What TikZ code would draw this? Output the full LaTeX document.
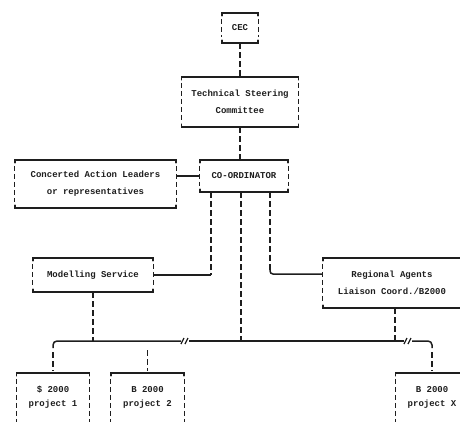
\documentclass[tikz,border=0pt]{standalone}
\usepackage{fontspec}
\setmonofont{Liberation Mono}
\usetikzlibrary{calc}
\definecolor{ink}{HTML}{1E1E1E}
\begin{document}
\begin{tikzpicture}[x=1pt,y=-1pt,
  lbl/.style={font=\fontsize{9}{17}\selectfont\ttfamily\bfseries, text=ink,
              align=center, inner sep=0pt},
  frame/.style={lbl, draw=none},
  pframe/.style={frame, font=\fontsize{9}{14}\selectfont\ttfamily\bfseries,
                 minimum width=73pt, minimum height=48pt},
  edge/.style={draw=ink, line width=1.5pt, line cap=round},
  side/.style={draw=ink, line width=1.1pt, dash pattern=on 5pt off 3pt},
  vlink/.style={draw=ink, line width=1.2pt, dash pattern=on 6pt off 3pt},
  hlink/.style={draw=ink, line width=1.5pt},
  brk/.style={draw=ink, line width=1.2pt},
]
\useasboundingbox (0,0) rectangle (460,421);
\clip (0,0) rectangle (460,421);

% boxes
\node[frame, minimum width=36pt,  minimum height=30pt] (cec)   at (240,28)    {CEC};
\node[frame, minimum width=117pt, minimum height=50pt] (tsc)   at (240,102)   {Technical Steering\\Committee};
\node[frame, minimum width=88pt,  minimum height=32pt] (coord) at (244,176)   {CO-ORDINATOR};
\node[frame, minimum width=161pt, minimum height=48pt] (cal)   at (95.5,184)  {Concerted Action Leaders\\or representatives};
\node[frame, minimum width=120pt, minimum height=34pt] (mod)   at (93,275)    {Modelling Service};
\node[frame, minimum width=138pt, minimum height=50pt] (reg)   at (392,283)   {Regional Agents\\Liaison Coord./B2000};
\node[pframe] (p1) at (53,397)    {\$ 2000\\project 1};
\node[pframe] (p2) at (147.5,397) {B 2000\\project 2};
\node[pframe] (px) at (432,397)   {B 2000\\project X};

% closed frames: solid top and bottom, dashed sides
\foreach \n in {cec,tsc,coord,cal,mod,reg}{
  \draw[edge] ([yshift=-3pt]\n.north west) -- (\n.north west) -- (\n.north east) -- ([yshift=-3pt]\n.north east);
  \draw[edge] ([yshift=3pt]\n.south west) -- (\n.south west) -- (\n.south east) -- ([yshift=3pt]\n.south east);
  \draw[side] ([yshift=-6pt]\n.north west) -- ([yshift=6pt]\n.south west);
  \draw[side] ([yshift=-6pt]\n.north east) -- ([yshift=6pt]\n.south east);
}
% project frames run off the bottom edge
\foreach \n in {p1,p2,px}{
  \draw[edge] ([yshift=-3pt]\n.north west) -- (\n.north west) -- (\n.north east) -- ([yshift=-3pt]\n.north east);
  \draw[side] ([yshift=-6pt]\n.north west) -- ([yshift=-20pt]\n.south west);
  \draw[side] ([yshift=-6pt]\n.north east) -- ([yshift=-20pt]\n.south east);
}

% upper chain
\draw[vlink] (cec.south) -- (tsc.north);
\draw[vlink] (tsc.south) -- (tsc.south |- coord.north);
\draw[hlink] (cal.east |- coord.west) -- (coord.west);

% links below the co-ordinator
\coordinate (cL) at ([xshift=-33pt]coord.south);
\coordinate (cM) at ([xshift=-3pt]coord.south);
\coordinate (cR) at ([xshift=26pt]coord.south);
\coordinate (regIn) at ([yshift=9pt]reg.west);
\coordinate (regOut) at ([xshift=3pt]reg.south);
\coordinate (bus) at (0,341);
\coordinate (brA) at (185,341);
\coordinate (brB) at (408,341);

\draw[vlink] (cL) -- (cL |- mod.east);
\draw[hlink] (cL |- mod.east) -- (mod.east);
\draw[vlink] (cM) -- (cM |- bus);
\draw[vlink] (cR) -- ($(cR |- regIn)+(0,-4)$);
\draw[hlink, rounded corners=3pt] ($(cR |- regIn)+(0,-5)$) -- (cR |- regIn) -- (regIn);
\draw[vlink] (mod.south) -- (mod.south |- bus);
\draw[vlink] (regOut) -- (regOut |- bus);

% distribution line with breaks
\draw[hlink, rounded corners=4pt] ($(p1.north |- bus)+(0,7)$) -- (p1.north |- bus) -- ($(brA)+(-4,0)$);
\draw[hlink] ($(brA)+(4,0)$) -- ($(brB)+(-4,0)$);
\draw[hlink, rounded corners=4pt] ($(brB)+(4,0)$) -- (px.north |- bus) -- ($(px.north |- bus)+(0,7)$);
\foreach \b in {brA,brB}{
  \draw[brk] ($(\b)+(-4,3)$) -- ($(\b)+(-1,-3)$);
  \draw[brk] ($(\b)+(0,3)$) -- ($(\b)+(3,-3)$);
}
\draw[vlink] ($(p1.north |- bus)+(0,11)$) -- ($(p1.north)+(0,-2)$);
\draw[vlink] ($(p2.north |- bus)+(0,9)$) -- ($(p2.north)+(0,-2)$);
\draw[vlink] ($(px.north |- bus)+(0,11)$) -- ($(px.north)+(0,-2)$);
\end{tikzpicture}
\end{document}
